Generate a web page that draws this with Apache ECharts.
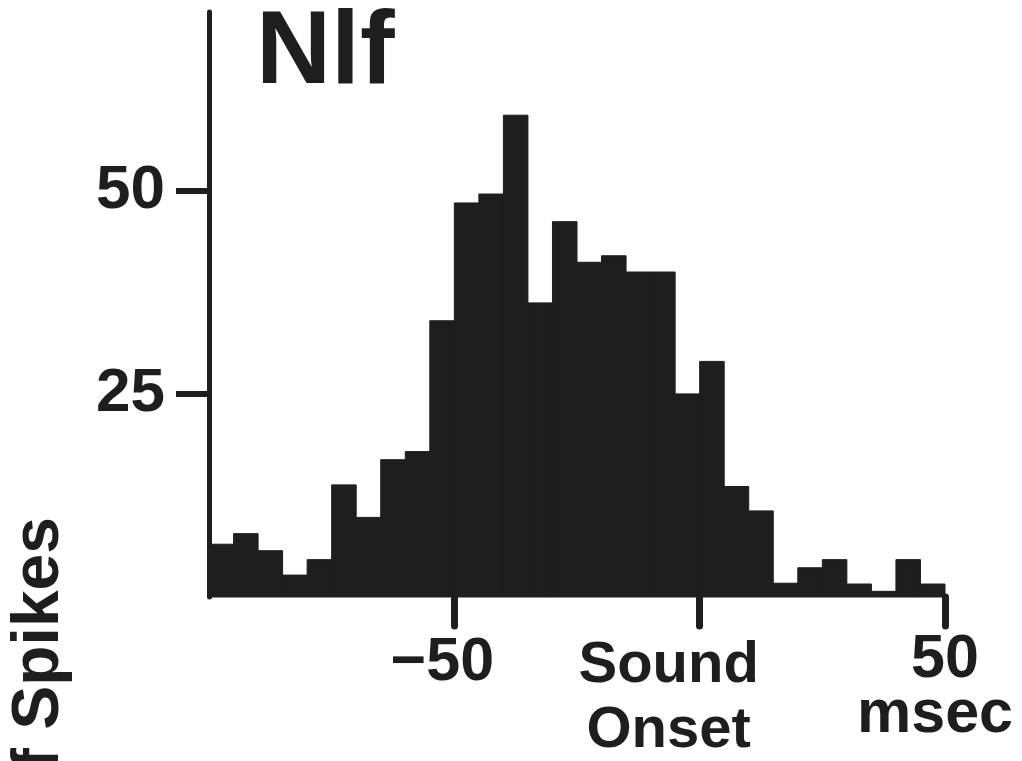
<!DOCTYPE html>
<html>
<head>
<meta charset="utf-8">
<title>Nlf</title>
<script src="https://cdn.jsdelivr.net/npm/echarts@6/dist/echarts.min.js"></script>
<style>
  html, body { margin: 0; padding: 0; background: #fff; }
  #chart { width: 1022px; height: 761px; }
</style>
</head>
<body>
<div id="chart"></div>
<script>
// bin edges in msec, relative to sound onset
const binEdges = [-100, -95, -90, -85, -80, -75, -70, -65, -60, -55, -50,
  -45, -40, -35, -30, -25, -20, -15, -10, -5, 0,
  5, 10, 15, 20, 25, 30, 35, 40, 45, 50]
// spike counts per bin
const spikeCounts = [6.5, 7.8, 5.7, 2.7, 4.6, 13.8, 9.8, 16.9, 17.9, 34,
  48.5, 49.6, 59.3, 36.2, 46.2, 41.2, 42, 40, 40, 25,
  29, 13.6, 10.6, 1.7, 3.6, 4.6, 1.6, 0.7, 4.6, 1.6]
const xTicks = [-50, 0, 50]
const yTicks = [25, 50]

const ink = '#1e1e1e'
const font = "'Liberation Sans', Arial, Helvetica, sans-serif"

const bins = spikeCounts.map((c, i) => [binEdges[i], binEdges[i + 1], c])

const chart = echarts.init(document.getElementById('chart'))

const option = {
  backgroundColor: '#fff',
  animation: false,
  title: {
    text: 'Nlf',
    left: 251,
    top: -3,
    textStyle: { fontFamily: font, fontSize: 104, fontWeight: 'bold', color: ink },
  },
  grid: { left: 209, right: 77, top: 12, bottom: 164, outerBoundsMode: 'none' },
  xAxis: {
    type: 'value',
    min: -100,
    max: 50,
    interval: 50,
    offset: 9,
    splitLine: { show: false },
    axisLine: { show: false },
    axisTick: {
      show: true,
      customValues: xTicks,
      length: 29,
      lineStyle: { color: ink, width: 7, cap: 'round' },
    },
    axisLabel: {
      customValues: xTicks,
      margin: 27,
      formatter: (v) => {
        if (v === 0) return '{s|Sound}\n{s|Onset}'
        if (v === 50) return '{n|50}\n{m|msec}'
        return '{a|\u2212' + Math.abs(v) + '}'
      },
      rich: {
        a: { fontFamily: font, fontSize: 61, fontWeight: 'bold', color: ink, padding: [0, 24, 0, 0] },
        s: { fontFamily: font, fontSize: 58, fontWeight: 'bold', color: ink, lineHeight: 65, padding: [0, 62, 0, 0] },
        n: { fontFamily: font, fontSize: 61, fontWeight: 'bold', color: ink, lineHeight: 55 },
        m: { fontFamily: font, fontSize: 61, fontWeight: 'bold', color: ink, lineHeight: 55, padding: [0, 20, 0, 0] },
      },
    },
  },
  yAxis: {
    type: 'value',
    min: 0,
    max: 72,
    interval: 25,
    splitLine: { show: false },
    axisLine: { show: true, onZero: false, lineStyle: { color: ink, width: 5 } },
    axisTick: {
      show: true,
      customValues: yTicks,
      length: 33,
      lineStyle: { color: ink, width: 6 },
    },
    axisLabel: {
      customValues: yTicks,
      margin: 44,
      fontFamily: font,
      fontSize: 62,
      fontWeight: 'bold',
      color: ink,
    },
  },
  graphic: [{
    type: 'text',
    x: 40,
    y: 517,
    rotation: Math.PI / 2,
    style: {
      text: 'No. of Spikes',
      fontFamily: font,
      fontSize: 66,
      fontWeight: 'bold',
      fill: ink,
      align: 'right',
      verticalAlign: 'middle',
    },
  }],
  series: [{
    type: 'custom',
    data: bins,
    encode: { x: [0, 1], y: 2 },
    renderItem: (params, api) => {
      const top = api.coord([api.value(0), api.value(2)])
      const base = api.coord([api.value(1), 0])
      return {
        type: 'rect',
        shape: { x: top[0], y: top[1], width: base[0] - top[0], height: base[1] - top[1] },
        style: { fill: ink, stroke: ink, lineWidth: 1 },
      }
    },
  }],
}

chart.setOption(option)
</script>
</body>
</html>
